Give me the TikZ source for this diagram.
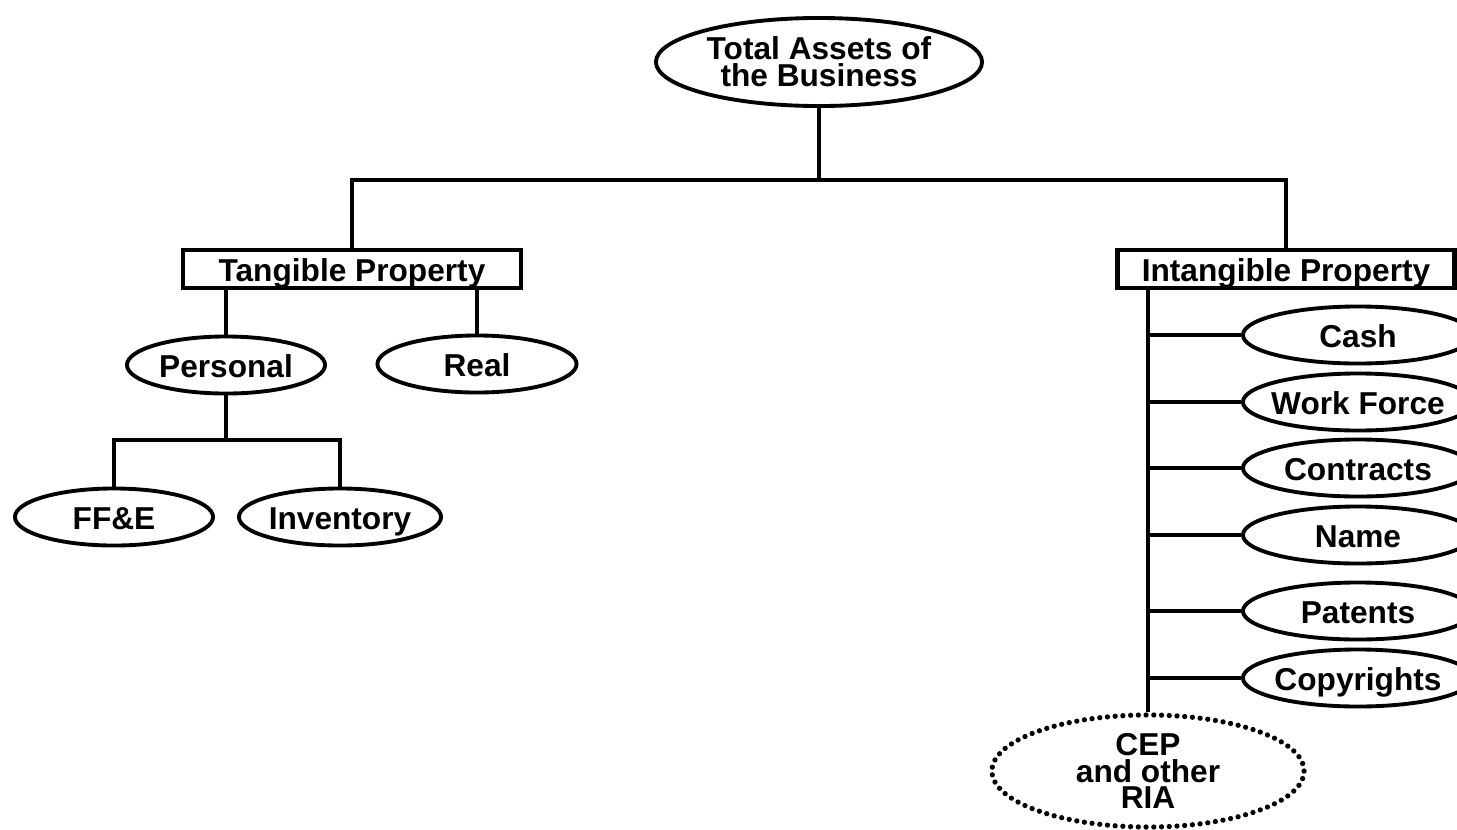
\documentclass[tikz,border=0pt]{standalone}
\usepackage{fontspec}
\setmainfont{Liberation Sans}
\usetikzlibrary{shapes.geometric}

\begin{document}
\begin{tikzpicture}[
    x=0.01cm, y=-0.01cm,
    oval/.style={draw, ellipse, line width=1.1pt, inner sep=0pt, minimum height=0.57cm, align=center, font=\fontsize{9}{7.6}\selectfont\bfseries},
    leaf/.style={oval, text height=0.72em, text depth=0pt},
    side/.style={leaf, minimum width=2.3cm},
    rbox/.style={draw, rectangle, line width=1.3pt, inner sep=0pt, minimum height=0.38cm, text height=0.72em, text depth=0pt, font=\fontsize{9}{7.6}\selectfont\bfseries},
    dotoval/.style={oval, dash pattern=on 0pt off 2.2pt, line cap=round, line width=1.5pt},
    link/.style={line width=1.2pt}
]
    \useasboundingbox (0,0) rectangle (1457,830);
    \clip (0,0) rectangle (1457,830);

    % --- Root ---
    \node[oval, minimum width=3.26cm, minimum height=0.88cm] (total) at (819,62) {Total Assets of\\the Business};
    \coordinate (split) at (819,180);

    % --- Tangible side ---
    \node[rbox, minimum width=3.38cm] (tang) at (352,269) {Tangible Property};
    \node[leaf, minimum width=1.98cm] (pers) at (226,365) {Personal};
    \node[leaf, minimum width=1.99cm] (real) at (477,364) {Real};
    \coordinate (fork) at (226,440);
    \node[leaf, minimum width=1.98cm] (ffe) at (114,517) {FF\&E};
    \node[leaf, minimum width=2.02cm] (inv) at (340,517) {Inventory};

    % --- Intangible side ---
    \node[rbox, minimum width=3.37cm] (intang) at (1286,269) {Intangible Property};
    \coordinate (itop) at (1148,288);
    \node[side] (cash) at (1358,335) {Cash};
    \node[side] (work) at (1358,402) {\makebox[0pt]{Work Force}};
    \node[side] (contr) at (1358,468) {Contracts};
    \node[side] (name) at (1358,535) {Name};
    \node[side] (pat) at (1358,611) {Patents};
    \node[side] (copy) at (1358,678) {\makebox[0pt]{Copyrights}};
    \node[dotoval, minimum width=3.12cm, minimum height=1.12cm] (cep) at (1148,771) {CEP\\and other\\RIA};

    % --- Connectors ---
    \draw[link] (total.south) -- (split);
    \draw[link] (tang.north) |- (split) -| (intang.north);
    \draw[link] (pers.north) -- (pers.north |- tang.south);
    \draw[link] (real.north) -- (real.north |- tang.south);
    \draw[link] (pers.south) -- (fork);
    \draw[link] (ffe.north) |- (fork) -| (inv.north);
    \draw[link] (itop) -- (cep.north);
    \draw[link] (cash.west) -- (cash.west -| itop);
    \draw[link] (work.west) -- (work.west -| itop);
    \draw[link] (contr.west) -- (contr.west -| itop);
    \draw[link] (name.west) -- (name.west -| itop);
    \draw[link] (pat.west) -- (pat.west -| itop);
    \draw[link] (copy.west) -- (copy.west -| itop);
\end{tikzpicture}
\end{document}
